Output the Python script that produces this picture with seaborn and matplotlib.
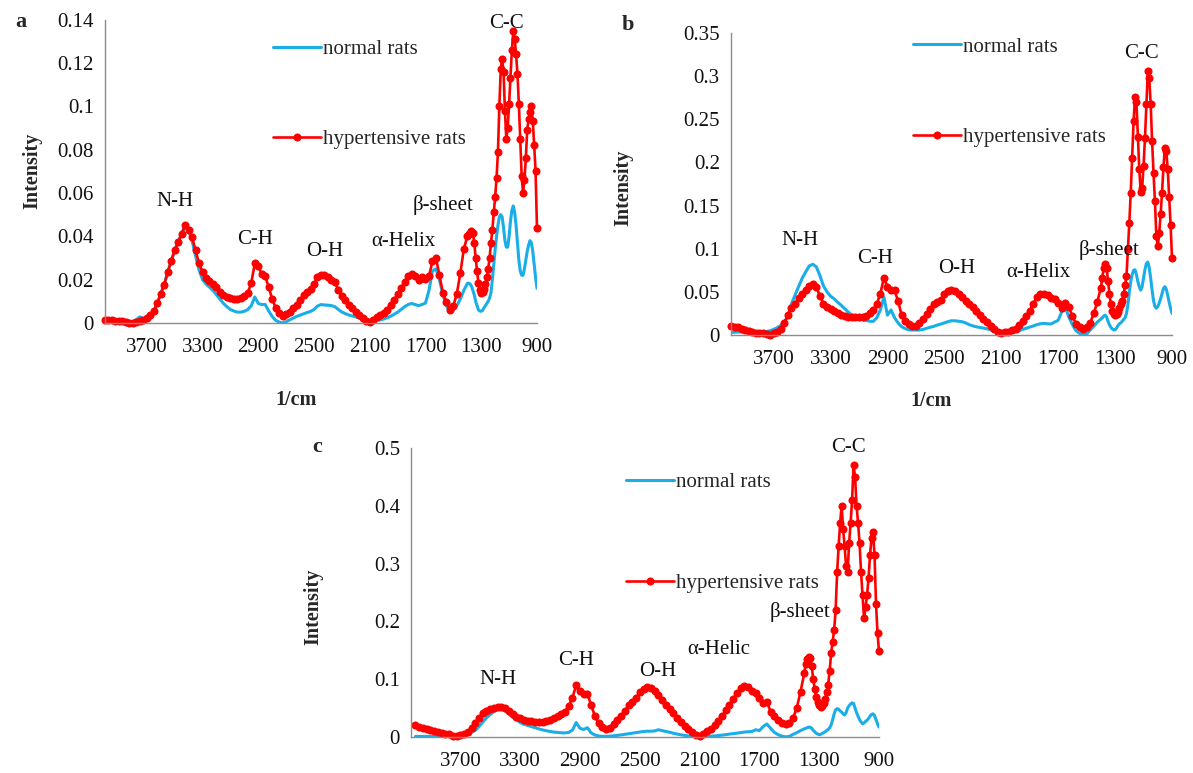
import numpy as np
import matplotlib
matplotlib.use("Agg")
import matplotlib.pyplot as plt
import seaborn as sns

# wavenumber grid (1/cm): 25 steps down to 1400, 10 steps in the fingerprint region
wavenumber = np.concatenate([np.arange(4000, 1399, -25), np.arange(1390, 899, -10)])

# ---- panel a ----
normal_a = [0.0005, 0.0005, 0.0005, 0.0004, 0.0004, 0.0003, 0.0003, 0.0004, 0.0005,
            0.0015, 0.0028, 0.0020, 0.0020, 0.0035, 0.0055, 0.0090, 0.0135,
            0.0177, 0.0235, 0.0285, 0.0335, 0.0375, 0.0412, 0.0448, 0.0425,
            0.0380, 0.0310, 0.0245, 0.0200, 0.0180, 0.0165, 0.0150, 0.0130,
            0.0110, 0.0090, 0.0075, 0.0062, 0.0055, 0.0050, 0.0050, 0.0054,
            0.0062, 0.0080, 0.0120, 0.0090, 0.0085, 0.0085, 0.0055, 0.0030,
            0.0012, 0.0004, 0.0000, 0.0006, 0.0014, 0.0022, 0.0030, 0.0036,
            0.0042, 0.0048, 0.0053, 0.0062, 0.0078, 0.0085, 0.0083, 0.0082,
            0.0080, 0.0075, 0.0062, 0.0050, 0.0043, 0.0037, 0.0032, 0.0028,
            0.0022, 0.0016, 0.0011, 0.0010, 0.0011, 0.0012, 0.0014, 0.0018,
            0.0024, 0.0031, 0.0040, 0.0050, 0.0062, 0.0075, 0.0085, 0.0090,
            0.0085, 0.0080, 0.0085, 0.0092, 0.0150, 0.0240, 0.0250, 0.0200,
            0.0130, 0.0080, 0.0050, 0.0060, 0.0080, 0.0110, 0.0150, 0.0182,
            0.0184, 0.0180, 0.0170, 0.0150, 0.0130, 0.0100, 0.0080, 0.0060, 0.0055, 0.0054,
            0.0058, 0.0070, 0.0080, 0.0090, 0.0100, 0.0115, 0.0140, 0.0200, 0.0270, 0.0340,
            0.0400, 0.0450, 0.0490, 0.0500, 0.0490, 0.0440, 0.0380, 0.0350, 0.0350, 0.0400,
            0.0470, 0.0520, 0.0540, 0.0510, 0.0450, 0.0370, 0.0290, 0.0240, 0.0220, 0.0220,
            0.0250, 0.0290, 0.0330, 0.0360, 0.0380, 0.0370, 0.0330, 0.0270, 0.0210, 0.0160]
hyper_a = [0.0015, 0.0014, 0.0013, 0.0011, 0.0010, 0.0008, 0.0006, 0.0002, 0.0000,
           0.0005, 0.0010, 0.0012, 0.0025, 0.0035, 0.0055, 0.0090, 0.0135,
           0.0177, 0.0235, 0.0285, 0.0335, 0.0375, 0.0412, 0.0450, 0.0430,
           0.0395, 0.0335, 0.0275, 0.0235, 0.0208, 0.0195, 0.0180, 0.0165,
           0.0145, 0.0130, 0.0120, 0.0113, 0.0110, 0.0110, 0.0115, 0.0123,
           0.0140, 0.0185, 0.0275, 0.0265, 0.0225, 0.0215, 0.0165, 0.0110,
           0.0070, 0.0045, 0.0030, 0.0040, 0.0052, 0.0068, 0.0085, 0.0105,
           0.0128, 0.0145, 0.0158, 0.0180, 0.0210, 0.0222, 0.0220, 0.0210,
           0.0200, 0.0188, 0.0150, 0.0125, 0.0105, 0.0085, 0.0068, 0.0052,
           0.0038, 0.0023, 0.0010, 0.0005, 0.0015, 0.0027, 0.0035, 0.0048,
           0.0062, 0.0085, 0.0108, 0.0132, 0.0160, 0.0190, 0.0215, 0.0225,
           0.0215, 0.0200, 0.0210, 0.0205, 0.0215, 0.0285, 0.0300, 0.0220,
           0.0140, 0.0095, 0.0062, 0.0080, 0.0135, 0.0230, 0.0340, 0.0400,
           0.0410, 0.0415, 0.0423, 0.0415, 0.0370, 0.0300, 0.0240, 0.0185, 0.0150, 0.0140,
           0.0142, 0.0155, 0.0178, 0.0210, 0.0250, 0.0300, 0.0370, 0.0430, 0.0510, 0.0580,
           0.0670, 0.0790, 0.1000, 0.1170, 0.1220, 0.1160, 0.0980, 0.0850, 0.0900, 0.1010,
           0.1130, 0.1260, 0.1345, 0.1310, 0.1240, 0.1150, 0.1010, 0.0850, 0.0680, 0.0600,
           0.0660, 0.0760, 0.0890, 0.0940, 0.0975, 0.1000, 0.0930, 0.0820, 0.0700, 0.0440]

# ---- panel b ----
normal_b = [0.0030, 0.0032, 0.0034, 0.0036, 0.0038, 0.0040, 0.0040, 0.0040, 0.0040,
            0.0040, 0.0040, 0.0050, 0.0065, 0.0085, 0.0112, 0.0150, 0.0220,
            0.0360, 0.0460, 0.0560, 0.0655, 0.0730, 0.0800, 0.0820, 0.0790,
            0.0690, 0.0570, 0.0500, 0.0450, 0.0420, 0.0380, 0.0345, 0.0305,
            0.0265, 0.0230, 0.0205, 0.0185, 0.0175, 0.0168, 0.0160, 0.0158,
            0.0200, 0.0290, 0.0440, 0.0230, 0.0290, 0.0200, 0.0140, 0.0096,
            0.0075, 0.0060, 0.0058, 0.0058, 0.0058, 0.0065, 0.0078, 0.0090,
            0.0100, 0.0115, 0.0128, 0.0140, 0.0155, 0.0165, 0.0165, 0.0160,
            0.0154, 0.0140, 0.0120, 0.0106, 0.0095, 0.0088, 0.0080, 0.0072,
            0.0060, 0.0045, 0.0040, 0.0035, 0.0032, 0.0030, 0.0035, 0.0042,
            0.0050, 0.0065, 0.0080, 0.0092, 0.0105, 0.0120, 0.0130, 0.0135,
            0.0130, 0.0128, 0.0150, 0.0170, 0.0270, 0.0320, 0.0210, 0.0120,
            0.0050, 0.0020, 0.0000, 0.0010, 0.0060, 0.0100, 0.0150, 0.0185,
            0.0200, 0.0220, 0.0230, 0.0210, 0.0160, 0.0120, 0.0090, 0.0070, 0.0060, 0.0060,
            0.0080, 0.0110, 0.0130, 0.0140, 0.0160, 0.0180, 0.0200, 0.0250, 0.0350, 0.0500,
            0.0620, 0.0700, 0.0750, 0.0755, 0.0700, 0.0620, 0.0560, 0.0520, 0.0560, 0.0660,
            0.0760, 0.0830, 0.0846, 0.0780, 0.0660, 0.0520, 0.0400, 0.0330, 0.0310, 0.0330,
            0.0370, 0.0420, 0.0480, 0.0540, 0.0560, 0.0530, 0.0460, 0.0380, 0.0310, 0.0250]
hyper_b = [0.0104, 0.0095, 0.0088, 0.0072, 0.0058, 0.0045, 0.0032, 0.0029, 0.0027,
           0.0024, 0.0015, 0.0000, 0.0020, 0.0040, 0.0075, 0.0140, 0.0230,
           0.0315, 0.0365, 0.0425, 0.0480, 0.0525, 0.0570, 0.0595, 0.0560,
           0.0450, 0.0365, 0.0330, 0.0300, 0.0275, 0.0255, 0.0235, 0.0220,
           0.0210, 0.0204, 0.0204, 0.0204, 0.0212, 0.0225, 0.0250, 0.0295,
           0.0360, 0.0480, 0.0660, 0.0560, 0.0525, 0.0520, 0.0390, 0.0230,
           0.0160, 0.0125, 0.0105, 0.0110, 0.0140, 0.0190, 0.0245, 0.0300,
           0.0358, 0.0385, 0.0410, 0.0470, 0.0505, 0.0527, 0.0515, 0.0480,
           0.0435, 0.0390, 0.0355, 0.0325, 0.0280, 0.0235, 0.0190, 0.0150,
           0.0110, 0.0070, 0.0040, 0.0020, 0.0030, 0.0040, 0.0055, 0.0075,
           0.0115, 0.0165, 0.0220, 0.0280, 0.0360, 0.0440, 0.0470, 0.0480,
           0.0460, 0.0430, 0.0420, 0.0370, 0.0310, 0.0370, 0.0320, 0.0220,
           0.0130, 0.0090, 0.0065, 0.0090, 0.0140, 0.0250, 0.0380, 0.0550,
           0.0660, 0.0780, 0.0827, 0.0780, 0.0630, 0.0480, 0.0360, 0.0280, 0.0240, 0.0230,
           0.0240, 0.0270, 0.0310, 0.0360, 0.0400, 0.0470, 0.0580, 0.0680, 0.1000, 0.1300,
           0.1650, 0.2050, 0.2480, 0.2760, 0.2700, 0.2300, 0.1920, 0.1660, 0.1700, 0.1960,
           0.2280, 0.2680, 0.3060, 0.2980, 0.2680, 0.2250, 0.1880, 0.1550, 0.1150, 0.1030,
           0.1180, 0.1400, 0.1650, 0.1950, 0.2170, 0.2130, 0.1920, 0.1600, 0.1280, 0.0890]

# ---- panel c ----
normal_c = [0.0010, 0.0010, 0.0010, 0.0010, 0.0010, 0.0010, 0.0010, 0.0010, 0.0010,
            0.0010, 0.0010, 0.0010, 0.0015, 0.0030, 0.0055, 0.0085, 0.0115,
            0.0180, 0.0260, 0.0330, 0.0390, 0.0440, 0.0480, 0.0485, 0.0450,
            0.0400, 0.0340, 0.0300, 0.0250, 0.0220, 0.0200, 0.0180, 0.0160,
            0.0140, 0.0122, 0.0108, 0.0095, 0.0085, 0.0078, 0.0072, 0.0070,
            0.0080, 0.0120, 0.0250, 0.0150, 0.0130, 0.0160, 0.0070, 0.0035,
            0.0018, 0.0010, 0.0012, 0.0015, 0.0020, 0.0028, 0.0036, 0.0045,
            0.0055, 0.0065, 0.0075, 0.0085, 0.0095, 0.0100, 0.0100, 0.0105,
            0.0125, 0.0110, 0.0095, 0.0082, 0.0065, 0.0050, 0.0038, 0.0028,
            0.0018, 0.0010, 0.0005, 0.0003, 0.0008, 0.0012, 0.0015, 0.0018,
            0.0025, 0.0032, 0.0040, 0.0050, 0.0058, 0.0066, 0.0075, 0.0085,
            0.0090, 0.0095, 0.0125, 0.0110, 0.0180, 0.0225, 0.0150, 0.0080,
            0.0040, 0.0015, 0.0002, 0.0010, 0.0045, 0.0075, 0.0110, 0.0140,
            0.0150, 0.0160, 0.0170, 0.0170, 0.0150, 0.0115, 0.0090, 0.0065, 0.0050, 0.0040,
            0.0045, 0.0060, 0.0075, 0.0090, 0.0110, 0.0130, 0.0160, 0.0210, 0.0300, 0.0400,
            0.0470, 0.0490, 0.0480, 0.0450, 0.0430, 0.0400, 0.0380, 0.0420, 0.0500, 0.0540,
            0.0570, 0.0590, 0.0580, 0.0500, 0.0420, 0.0360, 0.0300, 0.0260, 0.0230, 0.0240,
            0.0270, 0.0290, 0.0320, 0.0360, 0.0390, 0.0400, 0.0370, 0.0300, 0.0230, 0.0170]
hyper_c = [0.0200, 0.0180, 0.0160, 0.0140, 0.0120, 0.0100, 0.0085, 0.0072, 0.0060,
           0.0045, 0.0020, 0.0010, 0.0030, 0.0050, 0.0085, 0.0160, 0.0250,
           0.0330, 0.0410, 0.0455, 0.0485, 0.0505, 0.0525, 0.0525, 0.0500,
           0.0445, 0.0390, 0.0350, 0.0320, 0.0300, 0.0285, 0.0275, 0.0265,
           0.0260, 0.0262, 0.0280, 0.0300, 0.0330, 0.0360, 0.0390, 0.0440,
           0.0540, 0.0680, 0.0900, 0.0800, 0.0750, 0.0750, 0.0550, 0.0360,
           0.0240, 0.0180, 0.0145, 0.0160, 0.0220, 0.0290, 0.0360, 0.0450,
           0.0550, 0.0600, 0.0680, 0.0770, 0.0830, 0.0865, 0.0840, 0.0790,
           0.0720, 0.0640, 0.0560, 0.0480, 0.0410, 0.0330, 0.0260, 0.0190,
           0.0135, 0.0080, 0.0040, 0.0010, 0.0050, 0.0095, 0.0145, 0.0210,
           0.0280, 0.0360, 0.0460, 0.0560, 0.0660, 0.0760, 0.0840, 0.0880,
           0.0860, 0.0800, 0.0760, 0.0680, 0.0590, 0.0610, 0.0440, 0.0360,
           0.0300, 0.0250, 0.0230, 0.0240, 0.0330, 0.0500, 0.0780, 0.1100,
           0.1270, 0.1350, 0.1390, 0.1370, 0.1220, 0.1000, 0.0830, 0.0700, 0.0600, 0.0550,
           0.0520, 0.0530, 0.0580, 0.0650, 0.0780, 0.0900, 0.1150, 0.1450, 0.1650, 0.1850,
           0.2200, 0.2850, 0.3300, 0.3700, 0.4000, 0.3600, 0.3300, 0.2950, 0.2850, 0.3350,
           0.3700, 0.4100, 0.4700, 0.4500, 0.4000, 0.3700, 0.3350, 0.2850, 0.2450, 0.2050,
           0.2250, 0.2450, 0.2750, 0.3150, 0.3450, 0.3550, 0.3150, 0.2300, 0.1800, 0.1480]

xticks = [3700, 3300, 2900, 2500, 2100, 1700, 1300, 900]
yticks_a = [0, 0.02, 0.04, 0.06, 0.08, 0.1, 0.12, 0.14]
yticks_b = [0, 0.05, 0.1, 0.15, 0.2, 0.25, 0.3, 0.35]
yticks_c = [0, 0.1, 0.2, 0.3, 0.4, 0.5]
band_labels_a = ["N-H", "C-H", "O-H", "α-Helix", "β-sheet", "C-C"]
band_labels_b = ["N-H", "C-H", "O-H", "α-Helix", "β-sheet", "C-C"]
band_labels_c = ["N-H", "C-H", "O-H", "α-Helic", "β-sheet", "C-C"]

sns.set_style("white")
plt.rcParams['font.family'] = ['Liberation Serif', 'DejaVu Serif']

BLUE = '#1AAEE8'
RED = '#FF0000'
GREY = '#8C8C8C'

fig = plt.figure(figsize=(11.93, 7.73), dpi=100)

panels = [
    dict(letter='a', rect=[0.0880, 0.5822, 0.3621, 0.3925], normal=normal_a, hyper=hyper_a,
         xmax=4000, yticks=yticks_a, labels=band_labels_a,
         label_pos=[(3495, 0.056), (2924, 0.0383), (2424, 0.033), (1861, 0.0375), (1573, 0.0544), (1119, 0.138)],
         leg=(0.389, 0.935), legspace=3.4, ylab=(-0.145, 0.503), xlab=(0.442, -0.22),
         letter_xy=(0.0126, 0.9715)),
    dict(letter='b', rect=[0.6127, 0.5666, 0.3697, 0.3907], normal=normal_b, hyper=hyper_b,
         xmax=4000, yticks=yticks_b, labels=band_labels_b,
         label_pos=[(3512, 0.110), (2985, 0.089), (2414, 0.077), (1838, 0.072), (1342, 0.099), (1114, 0.326)],
         leg=(0.412, 0.987), legspace=3.4, ylab=(-0.222, 0.487), xlab=(0.453, -0.185),
         letter_xy=(0.5214, 0.9677)),
    dict(letter='c', rect=[0.3445, 0.0466, 0.3923, 0.3739], normal=normal_c, hyper=hyper_c,
         xmax=4030, yticks=yticks_c, labels=band_labels_c,
         label_pos=[(3447, 0.0994), (2926, 0.133), (2379, 0.113), (1971, 0.151), (1429, 0.217), (1106, 0.50)],
         leg=(0.46, 0.915), legspace=3.9, ylab=(-0.188, 0.45), xlab=None,
         letter_xy=(0.2615, 0.4217)),
]

for p in panels:
    ax = fig.add_axes(p['rect'])
    sns.lineplot(x=wavenumber, y=p['normal'], ax=ax, color=BLUE, linewidth=2.2,
                 label='normal rats')
    sns.lineplot(x=wavenumber, y=p['hyper'], ax=ax, color=RED, linewidth=1.9,
                 marker='o', markersize=5.8, markeredgewidth=0, clip_on=False,
                 label='hypertensive rats')

    ax.set_xlim(p['xmax'], 900)
    ax.set_ylim(0, p['yticks'][-1])
    ax.set_xticks(xticks)
    ax.set_xticklabels([str(t) for t in xticks])
    ax.set_yticks(p['yticks'])
    ax.set_yticklabels([f"{t:g}" for t in p['yticks']])
    ax.tick_params(axis='both', direction='out', length=5, width=1, color=GREY,
                   labelsize=15, labelcolor='#111111')
    ax.tick_params(axis='x', pad=6)
    ax.tick_params(axis='y', pad=3)
    for s in ['top', 'right']:
        ax.spines[s].set_visible(False)
    for s in ['left', 'bottom']:
        ax.spines[s].set_color(GREY)
        ax.spines[s].set_linewidth(1)
    ax.grid(False)

    for txt, (wx, wy) in zip(p['labels'], p['label_pos']):
        ax.text(wx, wy, txt, ha='center', va='center', fontsize=15, color='#111111')

    ax.set_ylabel('Intensity', fontsize=14.5, fontweight='bold')
    ax.yaxis.set_label_coords(*p['ylab'])
    if p['xlab'] is not None:
        ax.set_xlabel('1/cm', fontsize=14.5, fontweight='bold')
        ax.xaxis.set_label_coords(*p['xlab'])
    else:
        ax.set_xlabel('')

    ax.legend(loc='upper left', bbox_to_anchor=p['leg'], frameon=False, fontsize=15,
              labelspacing=p['legspace'], handlelength=2.3, handletextpad=0.1,
              borderpad=0, borderaxespad=0)

    fig.text(p['letter_xy'][0], p['letter_xy'][1], p['letter'], fontsize=16,
             fontweight='bold', ha='left', va='center')

fig.savefig('out.png', dpi=100)
